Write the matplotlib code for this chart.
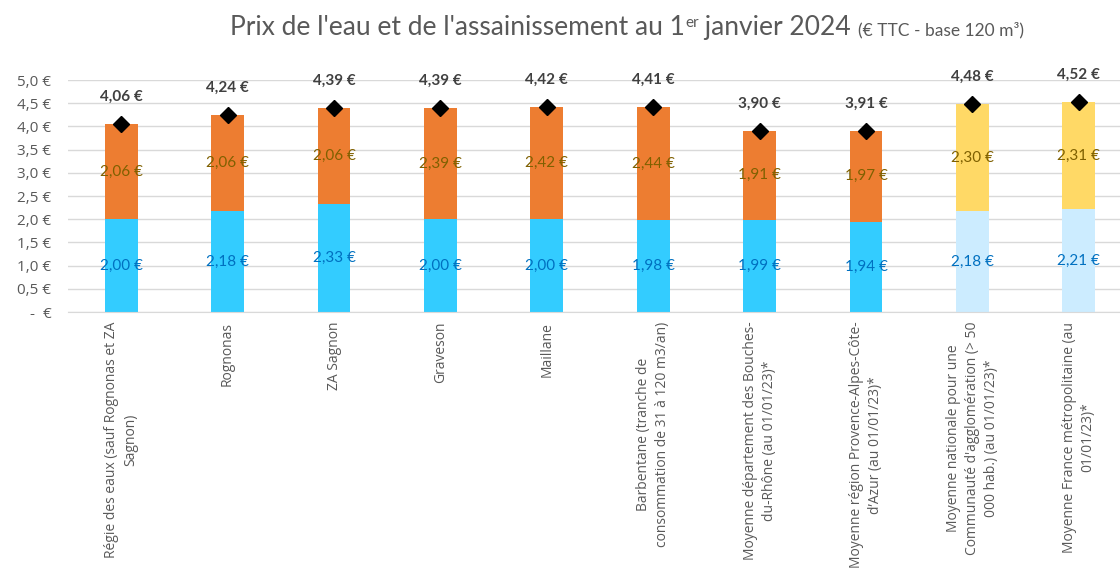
import matplotlib
matplotlib.use("Agg")
import matplotlib.pyplot as plt
import numpy as np

categories = [
    "Régie des eaux (sauf Rognonas et ZA\nSagnon)",
    "Rognonas",
    "ZA Sagnon",
    "Graveson",
    "Maillane",
    "Barbentane (tranche de\nconsommation de 31 à 120 m3/an)",
    "Moyenne département des Bouches-\ndu-Rhône (au 01/01/23)*",
    "Moyenne région Provence-Alpes-Côte-\nd\u2019Azur (au 01/01/23)*",
    "Moyenne nationale pour une\nCommunauté d'agglomération (> 50\n000 hab.) (au 01/01/23)*",
    "Moyenne France métropolitaine (au\n01/01/23)*",
]
eau = [2.00, 2.18, 2.33, 2.00, 2.00, 1.98, 1.99, 1.94, 2.18, 2.21]
assainissement = [2.06, 2.06, 2.06, 2.39, 2.42, 2.44, 1.91, 1.97, 2.30, 2.31]
total = [4.06, 4.24, 4.39, 4.39, 4.42, 4.41, 3.90, 3.91, 4.48, 4.52]
yticks = [0, 0.5, 1.0, 1.5, 2.0, 2.5, 3.0, 3.5, 4.0, 4.5, 5.0]
yticklabels = ["-  €", "0,5 €", "1,0 €", "1,5 €", "2,0 €", "2,5 €", "3,0 €", "3,5 €", "4,0 €", "4,5 €", "5,0 €"]

n_local = 8
col_eau = ["#33CCFF"] * n_local + ["#CCECFF"] * (len(categories) - n_local)
col_ass = ["#ED7D31"] * n_local + ["#FFD966"] * (len(categories) - n_local)

def fmt(v):
    return f"{v:.2f}".replace(".", ",") + " €"

W, H = 1120, 571
fig = plt.figure(figsize=(W / 100, H / 100), dpi=100)
ax = fig.add_axes([68 / W, (H - 312) / H, (W - 68) / W, (312 - 80) / H])

x = np.arange(len(categories))
bw = 0.31
ax.bar(x, eau, width=bw, color=col_eau, zorder=2)
ax.bar(x, assainissement, width=bw, bottom=eau, color=col_ass, zorder=2)
ax.plot(x, total, linestyle="none", marker="D", markersize=8, color="black", zorder=4, clip_on=False)

lab_font = "Lato"
for i in range(len(categories)):
    ax.text(x[i], eau[i] / 2, fmt(eau[i]), ha="center", va="center",
            color="#0070C0", fontsize=11, family=lab_font, zorder=5)
    ax.text(x[i], eau[i] + assainissement[i] / 2, fmt(assainissement[i]), ha="center", va="center",
            color="#7F6000", fontsize=11, family=lab_font, zorder=5)
    ax.annotate(fmt(total[i]), (x[i], total[i]), xytext=(0, 19.5), textcoords="offset points",
                ha="center", va="center", color="#404040", fontsize=11, fontweight="bold",
                family=lab_font, zorder=5, annotation_clip=False)

ax.set_ylim(0, 5.0)
span = 106.4
ax.set_xlim(-0.5, -0.5 + (W - 68) / span)
ax.set_yticks(yticks)
ax.set_yticklabels(yticklabels, fontsize=11, color="#595959", family="Open Sans")
ax.tick_params(axis="y", length=0, pad=12)
ax.set_xticks(x)
ax.set_xticklabels(categories, rotation=90, fontsize=10, color="#595959", family="Open Sans",
                   ha="center", va="top", multialignment="center", linespacing=1.35)
ax.tick_params(axis="x", length=0, pad=7)
ax.grid(axis="y", color="#D9D9D9", linewidth=1, zorder=0)
ax.set_axisbelow(True)
for s in ["top", "right", "left"]:
    ax.spines[s].set_visible(False)
ax.spines["bottom"].set_color("#D9D9D9")

# Title built from pieces
fig.canvas.draw()
r = fig.canvas.get_renderer()
pieces = [
    ("Prix de l'eau et de l'assainissement au 1", 19, 0),
    ("er", 11, 8),
    (" janvier 2024 ", 19, 0),
    ("(€ TTC - base 120 m³)", 12.5, 0),
]
tx = 230
base_y = H - 35
for txt, size, rise in pieces:
    t = fig.text(tx / W, (base_y + rise) / H, txt, fontsize=size, color="#595959",
                 family="Lato", ha="left", va="baseline")
    bb = t.get_window_extent(renderer=r)
    tx += bb.width

fig.savefig("out.png", dpi=100)
